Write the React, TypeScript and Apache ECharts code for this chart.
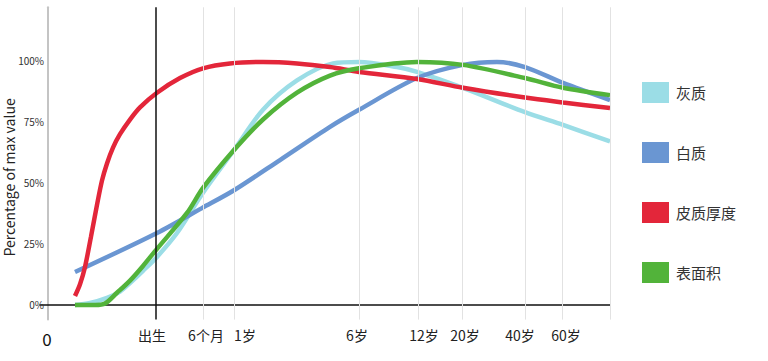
import React, { useEffect, useRef } from "react";
import * as echarts from "echarts";

// x positions along the (non-linear) age axis, y = percentage of max value
const greyX = [75, 90, 107, 120, 130, 143, 157, 177, 203, 234, 263, 297, 333, 359, 397, 417, 463, 525, 563, 610];
const greyY = [0, 0.8, 2.9, 5.5, 9, 14, 19.7, 29.5, 46, 63.5, 80, 92, 99, 99.6, 97.5, 95.5, 89, 79, 73.8, 67];

const whiteX = [75, 157, 202, 234, 280, 330, 359, 417, 463, 497, 525, 563, 610];
const whiteY = [13.5, 29.5, 39.7, 47, 59.4, 73, 80, 93, 98.4, 99.6, 97.5, 91, 84];

const thickX = [75, 80, 85, 91, 97, 102, 107, 113, 120, 130, 140, 157, 180, 203, 230, 263, 297, 330, 359, 417, 463, 525, 563, 610];
const thickY = [3.7, 8.5, 15.6, 28, 41, 51, 58, 64.5, 70, 76, 81, 87, 93, 97, 99, 99.6, 99, 97.5, 95.5, 92.6, 89, 85, 83, 80.7];

const areaX = [75, 95, 105, 117, 130, 143, 157, 187, 203, 234, 263, 297, 330, 359, 417, 463, 525, 563, 610];
const areaY = [0, 0, 0.6, 5, 10, 16, 23, 37.7, 48, 63.5, 76, 87, 94, 97, 99.6, 98.4, 93, 89, 86];

const seriesNames = ["灰质", "白质", "皮质厚度", "表面积"];
const seriesColors = ["#9bdde6", "#6a96d2", "#e3263a", "#52b33a"];

// tick labels and their positions on the age axis
const tickLabels = ["0", "出生", "6个月", "1岁", "6岁", "12岁", "20岁", "40岁", "60岁"];
const tickLabelPos = [47, 152, 206, 245, 357, 424, 465, 520, 566];
const birthPos = 156;
const gridLinePos = [203, 234, 359, 418, 462, 525, 562, 610];
const yTicks = [0, 25, 50, 75, 100];

const zip = (xs: number[], ys: number[]) => xs.map((x, i) => [x, ys[i]]);

export default function App() {
  const ref = useRef<HTMLDivElement>(null);
  useEffect(() => {
    const chart = echarts.init(ref.current!, null, { renderer: "svg" });
    const datasets = [zip(greyX, greyY), zip(whiteX, whiteY), zip(thickX, thickY), zip(areaX, areaY)];
    chart.setOption({
      animation: false,
      textStyle: { fontFamily: "'Noto Sans CJK SC', 'Noto Sans', sans-serif" },
      grid: { left: 40, right: 158, top: 7.3, bottom: 41.4, containLabel: false, outerBoundsMode: "none" },
      legend: {
        data: seriesNames.map((n) => ({ name: n, icon: "rect" })),
        orient: "vertical",
        left: 642,
        top: 82,
        padding: 0,
        itemWidth: 27,
        itemHeight: 21,
        itemGap: 39,
        textStyle: { fontSize: 15, color: "#333", padding: [0, 0, 0, 2] },
        selectedMode: false,
      },
      xAxis: {
        type: "value",
        min: 40,
        max: 610,
        splitLine: { show: false },
        axisTick: { show: false },
        axisLine: { lineStyle: { color: "#111", width: 1.5 } },
        axisLabel: {
          customValues: tickLabelPos,
          margin: 8,
          color: "#222",
          fontSize: 14,
          formatter: (v: number) => {
            const i = tickLabelPos.indexOf(v);
            const t = i >= 0 ? tickLabels[i] : "";
            return t === "0" ? "{z|0}" : t;
          },
          rich: { z: { fontSize: 17, color: "#111", padding: [2, 0, 0, 0] } },
        },
      },
      yAxis: {
        type: "value",
        min: -6,
        max: 122,
        offset: -8,
        splitLine: { show: false },
        axisTick: { show: false },
        axisLine: { show: true, lineStyle: { color: "#c4c4c4", width: 2 } },
        axisLabel: {
          customValues: yTicks,
          formatter: (v: number) => v + "%",
          fontSize: 10,
          color: "#333",
          margin: 4,
        },
        name: "Percentage of max value",
        nameLocation: "middle",
        nameGap: 32,
        nameMoveOverlap: false,
        nameTextStyle: { fontSize: 14, color: "#222", padding: [0, 28, 0, 0] },
      },
      series: [
        {
          type: "line",
          data: [],
          z: 1,
          silent: true,
          markLine: {
            symbol: "none",
            silent: true,
            label: { show: false },
            data: [
              { xAxis: birthPos, lineStyle: { color: "#111", width: 1.5, type: "solid" } },
              ...gridLinePos.map((p) => ({ xAxis: p, lineStyle: { color: "#e2e2e2", width: 1, type: "solid" } })),
            ],
          },
        },
        ...seriesNames.map((n, i) => ({
          name: n,
          type: "line",
          data: datasets[i],
          smooth: 0.3,
          showSymbol: false,
          z: 3,
          color: seriesColors[i],
          lineStyle: { color: seriesColors[i], width: 4.5 },
        })),
      ],
    });
    return () => chart.dispose();
  }, []);
  return <div ref={ref} style={{ position: "fixed", left: 0, top: 0, width: 768, height: 361, background: "#fff" }} />;
}
